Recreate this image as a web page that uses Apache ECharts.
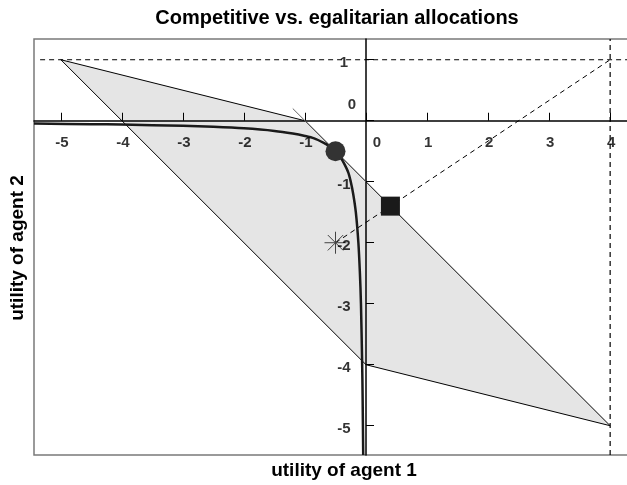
<!DOCTYPE html>
<html lang="en">
<head>
    <meta charset="UTF-8">
    <title>Competitive vs. egalitarian allocations</title>
    <script src="https://cdn.jsdelivr.net/npm/echarts@6/dist/echarts.min.js"></script>
    <style>
        html, body { margin: 0; padding: 0; background: #fff; overflow: hidden; }
        /* plot region runs past the right edge of the window, as in the original */
        #main { width: 640px; height: 485px; }
    </style>
</head>
<body>
<div id="main"></div>
<script>
    // axis ticks and labels
    var xTicks = [-5, -4, -3, -2, -1, 0, 1, 2, 3, 4];
    var yTicks = [-5, -4, -3, -2, -1, 0, 1];

    // feasible utility set (parallelogram)
    var regionX = [-5, -1, 4, 0];
    var regionY = [1, 0, -5, -4];

    // indifference curve through the competitive allocation
    var curveX = [-5.44, -4.5, -4, -3, -2.5, -2, -1.5, -1.2, -1, -0.85, -0.7, -0.6, -0.5,
        -0.42, -0.36, -0.29, -0.25, -0.21, -0.167, -0.125, -0.1, -0.083, -0.063, -0.056, -0.046];
    var curveY = [-0.046, -0.056, -0.063, -0.083, -0.1, -0.125, -0.167, -0.21, -0.25, -0.29, -0.36, -0.42, -0.5,
        -0.6, -0.7, -0.85, -1, -1.2, -1.5, -2, -2.5, -3, -4, -4.5, -5.48];

    // tangent line at the competitive point
    var tangentX = [-1.2, 0];
    var tangentY = [0.2, -1];

    var competitive = [-0.5, -0.5];
    var egalitarian = [0.4, -1.4];
    var disagreement = [-0.5, -2];
    var ideal = [4, 1];

    var xMin = -5.44, xMax = 4.44, yMin = -5.48, yMax = 1.34;

    function pairs(xs, ys) {
        return xs.map(function (x, i) { return [x, ys[i]]; });
    }

    var chart = echarts.init(document.getElementById('main'));
    var font = 'Liberation Sans, Arial, sans-serif';
    var tickFont = {color: '#000', fontWeight: 'bold', fontSize: 15, fontFamily: font};

    // tick labels drawn next to the axes crossing at the origin
    var xLabelData = xTicks.map(function (v) {
        return {value: [v, 0], label: {formatter: String(v), offset: v === 0 ? [11, 22] : [1, 22]}};
    });
    var yLabelData = yTicks.map(function (v) {
        return {value: [0, v], label: {formatter: String(v), offset: v === 0 ? [-14, -16] : [-22, 3]}};
    });

    var option = {
        animation: false,
        grid: {
            left: 34, top: 39, width: 603, bottom: 30, outerBoundsMode: 'none',
            show: true, borderColor: '#7a7a7a', borderWidth: 1.5, backgroundColor: 'transparent'
        },
        graphic: [
            {type: 'text', x: 337, y: 18, style: {text: 'Competitive vs. egalitarian allocations', font: 'bold 20px ' + font, fill: '#000', align: 'center', verticalAlign: 'middle'}},
            {type: 'text', x: 344, y: 471, style: {text: 'utility of agent 1', font: 'bold 19px ' + font, fill: '#000', align: 'center', verticalAlign: 'middle'}},
            {type: 'text', x: 18, y: 248, rotation: Math.PI / 2, style: {text: 'utility of agent 2', font: 'bold 19px ' + font, fill: '#000', align: 'center', verticalAlign: 'middle'}}
        ],
        xAxis: {
            type: 'value', min: xMin, max: xMax, z: 3,
            splitLine: {show: false},
            axisLine: {onZero: true, lineStyle: {color: '#000', width: 1.5}},
            axisTick: {inside: true, length: 8, customValues: xTicks, lineStyle: {color: '#000', width: 1}},
            axisLabel: {show: false}
        },
        yAxis: {
            type: 'value', min: yMin, max: yMax, z: 3,
            splitLine: {show: false},
            axisLine: {onZero: true, lineStyle: {color: '#000', width: 1.5}},
            axisTick: {inside: true, length: 8, customValues: yTicks, lineStyle: {color: '#000', width: 1}},
            axisLabel: {show: false}
        },
        series: [
            {
                type: 'custom', z: 1,
                data: [[regionX[0], regionY[0]]],
                renderItem: function (params, api) {
                    var pts = regionX.map(function (x, i) { return api.coord([x, regionY[i]]); });
                    return {type: 'polygon', shape: {points: pts}, style: {fill: '#e5e5e5', stroke: '#000', lineWidth: 1}};
                }
            },
            {
                type: 'line', z: 2, symbol: 'none',
                data: [[-5.34, ideal[1]], [xMax, ideal[1]]],
                lineStyle: {color: '#000', width: 1, type: [5, 4]}
            },
            {
                type: 'line', z: 2, symbol: 'none',
                data: [[ideal[0], yMin], [ideal[0], yMax]],
                lineStyle: {color: '#000', width: 1.2, type: [5, 4]}
            },
            {
                type: 'line', z: 2, symbol: 'none',
                data: [disagreement, ideal],
                lineStyle: {color: '#000', width: 1, type: [5, 4]}
            },
            {
                type: 'line', z: 4, symbol: 'none',
                data: pairs(tangentX, tangentY),
                lineStyle: {color: '#666', width: 1}
            },
            {
                type: 'line', z: 4, symbol: 'none', smooth: 0.3,
                data: pairs(curveX, curveY),
                lineStyle: {color: '#1a1a1a', width: 2.5}
            },
            {
                type: 'scatter', z: 5, symbol: 'circle', symbolSize: 20,
                data: [competitive],
                itemStyle: {color: '#333', opacity: 1}
            },
            {
                type: 'scatter', z: 5, symbol: 'rect', symbolSize: 19,
                data: [egalitarian],
                itemStyle: {color: '#1a1a1a', opacity: 1}
            },
            {
                type: 'scatter', z: 5,
                symbol: 'path://M10,0L10,20M0,10L20,10M3,3L17,17M3,17L17,3',
                symbolSize: 22,
                data: [disagreement],
                itemStyle: {color: 'none', borderColor: '#444', borderWidth: 1, opacity: 1}
            },
            {
                type: 'scatter', z: 6, symbolSize: 0, silent: true,
                data: xLabelData,
                label: Object.assign({show: true, position: 'inside'}, tickFont)
            },
            {
                type: 'scatter', z: 6, symbolSize: 0, silent: true,
                data: yLabelData,
                label: Object.assign({show: true, position: 'inside'}, tickFont)
            }
        ]
    };
    chart.setOption(option);
</script>
</body>
</html>
